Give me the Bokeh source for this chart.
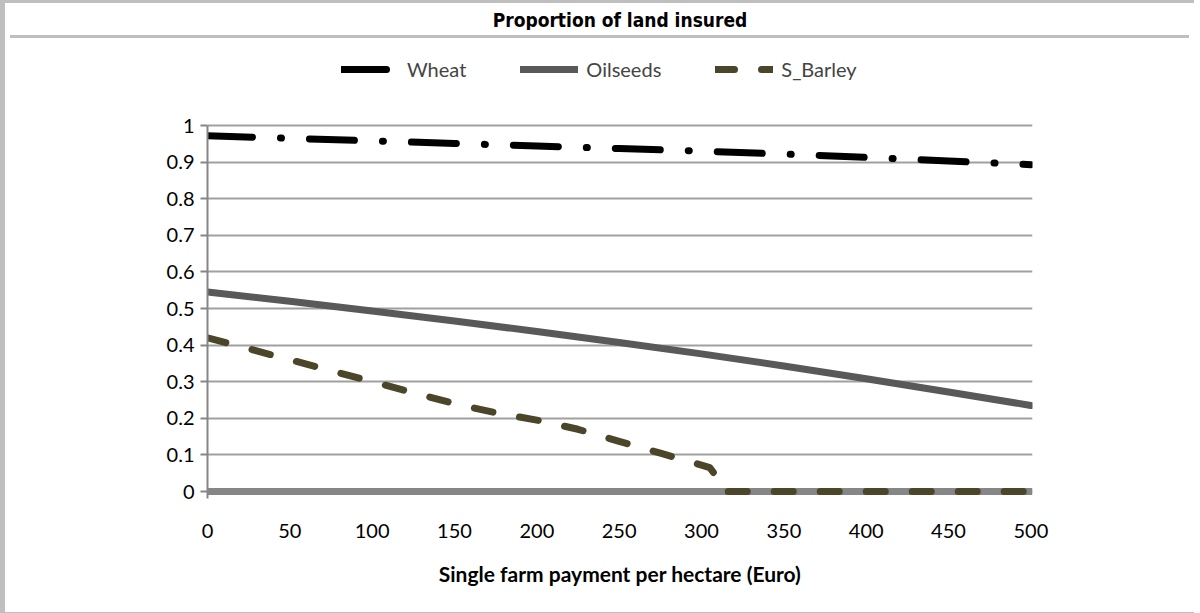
from bokeh.plotting import figure
from bokeh.models import Range1d, FixedTicker, Legend, LegendItem, Label, Div, Span
from bokeh.layouts import column
from bokeh.embed import file_html
from bokeh.resources import INLINE

# ---------------- data ----------------
title_text = "Proportion of land insured"
x_axis_title = "Single farm payment per hectare (Euro)"
series_names = ["Wheat", "Oilseeds", "S_Barley"]

x_values = [0, 50, 100, 150, 200, 250, 300, 350, 400, 450, 500]
wheat = [0.972, 0.965, 0.958, 0.951, 0.944, 0.937, 0.930, 0.922, 0.913, 0.903, 0.893]
oilseeds = [0.545, 0.520, 0.493, 0.466, 0.437, 0.407, 0.376, 0.343, 0.308, 0.272, 0.235]

barley_x = [0, 25, 50, 75, 100, 125, 150, 175, 200, 225, 250, 275, 300, 305, 311, 313, 350, 400, 450, 500]
barley = [0.420, 0.390, 0.360, 0.330, 0.300, 0.270, 0.240, 0.215, 0.195, 0.170, 0.137, 0.105, 0.072, 0.065, 0.030, 0.0, 0.0, 0.0, 0.0, 0.0]

x_ticks = [0, 50, 100, 150, 200, 250, 300, 350, 400, 450, 500]
x_tick_labels = ["0", "50", "100", "150", "200", "250", "300", "350", "400", "450", "500"]
y_ticks = [0, 0.1, 0.2, 0.3, 0.4, 0.5, 0.6, 0.7, 0.8, 0.9, 1.0]
y_tick_labels = ["0", "0.1", "0.2", "0.3", "0.4", "0.5", "0.6", "0.7", "0.8", "0.9", "1"]

# ---------------- styling / layout ----------------
FONT = "Lato"
TITLE_FONT = "'DejaVu Sans Condensed', 'Liberation Sans Narrow', Roboto, sans-serif"
BORDER = "#bfbfbf"
W = 1179
PX_PER_UNIT = 366.0          # pixels for y from 0 to 1
FRAME_TOP_PAD = 74           # pixels between frame top and y = 1 (legend area)
BOTTOM_PAD = 7               # pixels between y = 0 and frame bottom
FRAME_H = int(PX_PER_UNIT + FRAME_TOP_PAD + BOTTOM_PAD)
Y_START = -BOTTOM_PAD / PX_PER_UNIT
Y_END = 1 + FRAME_TOP_PAD / PX_PER_UNIT
LEFT = 202
FRAME_W = 825

# title band
tf = figure(width=W, height=27, x_range=Range1d(0, 1), y_range=Range1d(0, 1),
            min_border=0, toolbar_location=None, output_backend="svg")
tf.axis.visible = False
tf.grid.visible = False
tf.outline_line_color = None
tf.add_layout(Label(x=0.5, y=0.38, text=title_text, text_align="center",
                    text_baseline="middle", text_font=TITLE_FONT,
                    text_font_size="19px", text_font_style="bold", text_color="black"))

sep = Div(width=W, height=3, styles={"background-color": BORDER})

p = figure(width=W, height=8 + FRAME_H + 114, x_range=Range1d(0, 501),
           y_range=Range1d(Y_START, Y_END),
           toolbar_location=None, output_backend="svg",
           min_border_left=LEFT, min_border_right=W - LEFT - FRAME_W,
           min_border_top=8, min_border_bottom=114)
p.outline_line_color = None
p.background_fill_color = "white"

# thick grey base line along y = 0 (Excel's horizontal axis line)
p.add_layout(Span(location=0, dimension="width", line_color="#868686",
                  line_width=7, level="underlay"))

r_wheat = p.line(x_values, wheat, line_color="black", line_width=7,
                 line_dash="45 28 1 28", line_cap="round", line_join="round")
r_oil = p.line(x_values, oilseeds, line_color="#595959", line_width=7,
               line_cap="round", line_join="round")
r_bar = p.line(barley_x, barley, line_color="#4b452a", line_width=7,
               line_dash="19 27", line_cap="round", line_join="round")

# axes
p.xaxis.ticker = FixedTicker(ticks=x_ticks)
p.xaxis.major_label_overrides = dict(zip(x_ticks, x_tick_labels))
p.yaxis.ticker = FixedTicker(ticks=y_ticks)
p.yaxis.major_label_overrides = dict(zip(y_ticks, y_tick_labels))

for ax in (p.xaxis, p.yaxis):
    ax.major_label_text_font = FONT
    ax.major_label_text_font_size = "20px"
    ax.major_label_text_color = "black"
    ax.minor_tick_line_color = None

p.xaxis.axis_line_color = None
p.xaxis.major_tick_line_color = None
p.xaxis.major_label_standoff = 19
p.xaxis.axis_label = x_axis_title
p.xaxis.axis_label_text_font = FONT
p.xaxis.axis_label_text_font_size = "21px"
p.xaxis.axis_label_text_font_style = "bold"
p.xaxis.axis_label_text_color = "black"
p.xaxis.axis_label_standoff = 20

p.yaxis.bounds = (Y_START, 1)
p.yaxis.axis_line_color = "#868686"
p.yaxis.axis_line_width = 2
p.yaxis.major_tick_line_color = "#868686"
p.yaxis.major_tick_line_width = 2
p.yaxis.major_tick_out = 7
p.yaxis.major_tick_in = 0
p.yaxis.major_label_standoff = 6

p.xgrid.visible = False
p.ygrid.grid_line_color = "#a0a0a0"
p.ygrid.grid_line_width = 2

legend = Legend(items=[LegendItem(label=series_names[0], renderers=[r_wheat]),
                       LegendItem(label=series_names[1], renderers=[r_oil]),
                       LegendItem(label=series_names[2], renderers=[r_bar])],
                orientation="horizontal", location=(134, FRAME_H - 30),
                label_text_font=FONT, label_text_font_size="20px",
                glyph_width=58, glyph_height=20, spacing=54, label_standoff=8,
                border_line_color=None, background_fill_alpha=0, padding=0, margin=0)
p.add_layout(legend, "center")

layout = column(tf, sep, p, styles={"border-left": "5px solid " + BORDER,
                                    "border-top": "3px solid " + BORDER,
                                    "border-bottom": "2px solid " + BORDER})

open("out.html", "w").write(file_html(layout, INLINE))
